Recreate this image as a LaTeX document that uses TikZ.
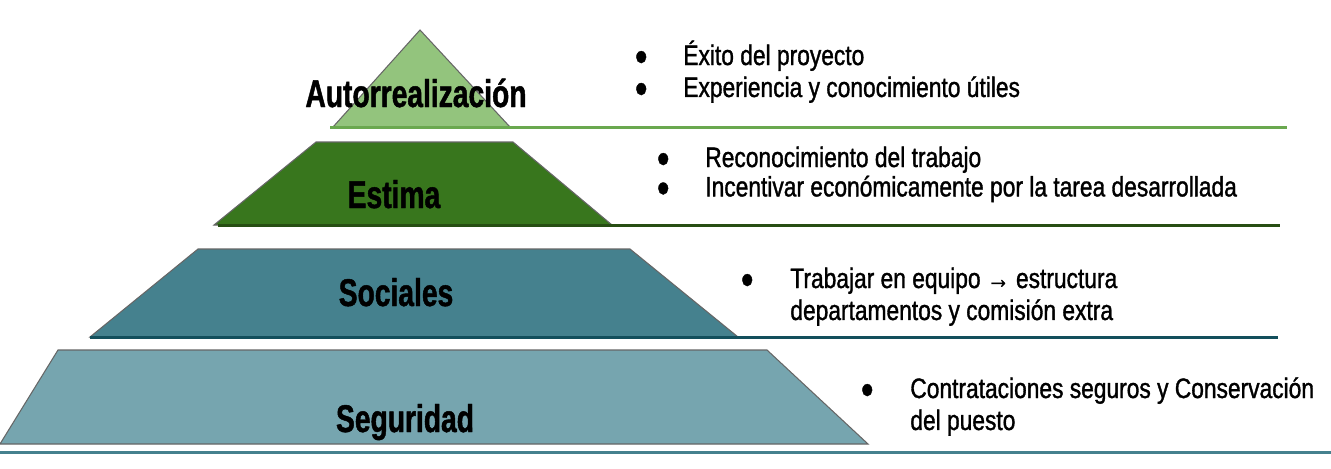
\documentclass[tikz,border=0pt]{standalone}
\usepackage{fontspec}
\setmainfont{Liberation Sans}
\newfontfamily\headfont[FakeStretch=0.73,FakeBold=1.2]{Liberation Sans}
\newfontfamily\itemfont[FakeStretch=0.81,FakeBold=1.2]{Liberation Sans}

\definecolor{topfill}{HTML}{93C47D}
\definecolor{topline}{HTML}{6AA84F}
\definecolor{estfill}{HTML}{38761D}
\definecolor{estline}{HTML}{274E13}
\definecolor{socfill}{HTML}{45818E}
\definecolor{socline}{HTML}{134F5C}
\definecolor{segfill}{HTML}{76A5AF}
\definecolor{segline}{HTML}{45818E}

\begin{document}
\begin{tikzpicture}[
			x=0.02cm, y=-0.02cm,
			level/.style={draw=black!60, line width=0.6pt},
			baseline/.style={line width=1.7pt},
			heading/.style={inner sep=0pt, anchor=base, font=\headfont\bfseries\fontsize{22}{26}\selectfont},
			items/.style={inner sep=0pt, anchor=base west, font=\itemfont\fontsize{16}{18.2}\selectfont}
			]
			\fill[white] (0,0) rectangle (1331,468);
			\useasboundingbox (0,0) rectangle (1331,468);
			
			% -------- Autorrealizacion --------
			\fill[level, fill=topfill] (333,127) -- (420,30) -- (510,127) -- cycle;
			\draw[baseline, topline] (330,127) -- (1287,127);
			\node[heading] (autor) at (416,107) {Autorrealización};
			\node[items] (autoritems) at (634,65) {\begin{tabular}[t]{@{}p{0.98cm}@{}l@{}}
				● & Éxito del proyecto\\
				● & Experiencia y conocimiento útiles
			\end{tabular}};
			
			% -------- Estima --------
			\fill[level, fill=estfill] (214,225) -- (316,142) -- (513,142) -- (612,225) -- cycle;
			\draw[baseline, estline] (218,225) -- (1280,225);
			\node[heading] (estima) at (394,208) {Estima};
			\node[items, font=\itemfont\fontsize{16}{16.5}\selectfont] (estimaitems) at (656,167) {\begin{tabular}[t]{@{}p{0.98cm}@{}l@{}}
				● & Reconocimiento del trabajo\\
				● & Incentivar económicamente por la tarea desarrollada
			\end{tabular}};
			
			% -------- Sociales --------
			\fill[level, fill=socfill] (90,337) -- (198,249) -- (630,249) -- (738,337) -- cycle;
			\draw[baseline, socline] (90,337) -- (1278,337);
			\node[heading] (sociales) at (396,306) {Sociales};
			\node[items] (socialesitems) at (740,288) {\begin{tabular}[t]{@{}p{1.0cm}@{}l@{}}
				● & Trabajar en equipo → estructura\\
				 & departamentos y comisión extra
			\end{tabular}};
			
			% -------- Seguridad --------
			\fill[level, fill=segfill] (0,444) -- (58,350) -- (767,350) -- (868,444) -- cycle;
			\draw[baseline, segline] (0,452) -- (1331,452);
			\node[heading] (seguridad) at (405,432) {Seguridad};
			\node[items] (seguridaditems) at (860,398) {\begin{tabular}[t]{@{}p{1.0cm}@{}l@{}}
				● & Contrataciones seguros y Conservación\\
				 & del puesto
			\end{tabular}};
			
	\end{tikzpicture}
\end{document}
